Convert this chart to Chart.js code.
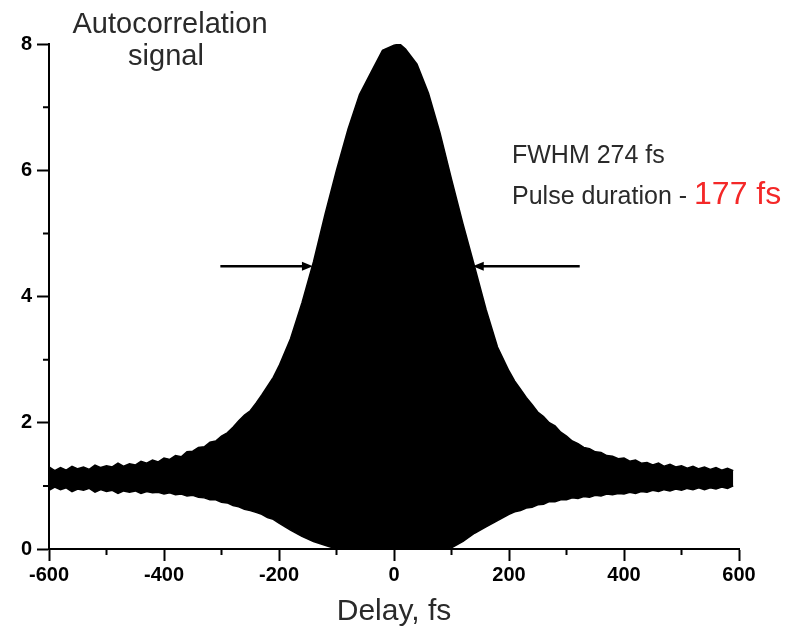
<!DOCTYPE html>
<html>
<head>
<meta charset="utf-8">
<script src="https://cdn.jsdelivr.net/npm/chart.js@4.4.1/dist/chart.umd.min.js"></script>
<style>
  html, body { margin: 0; padding: 0; background: #fff; }
  #wrap { width: 811px; height: 633px; }
</style>
</head>
<body>
<div id="wrap"><canvas id="myChart" width="811" height="633"></canvas></div>
<script>
// delay points (fs) and the envelopes
var delay = [-600,-590,-580,-570,-560,-550,-540,-530,-520,-510,-500,-490,-480,-470,-460,-450,
             -440,-430,-420,-410,-400,-390,-380,-370,-360,-350,-340,-330,-320,-310,-300,-290,
             -280,-270,-260,-250,-240,-230,-220,-210,-200,
             -180,-160,-140,-120,-100,-80,-60,-40,-20,0,10,20,40,60,80,100,120,140,160,180,
             200,210,220,230,240,250,260,270,280,290,300,310,320,330,340,350,360,370,380,390,
             400,410,420,430,440,450,460,470,480,490,500,510,520,530,540,550,560,570,580,590];
var upperEnv = [1.30,1.24,1.29,1.25,1.31,1.27,1.30,1.26,1.33,1.29,1.32,1.30,1.36,1.31,1.35,1.33,
                1.39,1.36,1.41,1.38,1.44,1.42,1.48,1.46,1.54,1.55,1.61,1.62,1.69,1.71,1.79,1.84,
                1.93,2.03,2.12,2.19,2.31,2.44,2.58,2.72,2.90,
                3.33,3.90,4.55,5.30,6.00,6.65,7.20,7.55,7.90,7.98,8.00,7.92,7.68,7.22,6.59,5.86,5.15,4.48,3.80,3.20,
                2.82,2.66,2.53,2.40,2.29,2.17,2.10,2.00,1.95,1.85,1.79,1.71,1.67,1.61,1.59,1.54,1.53,1.48,1.47,1.43,
                1.44,1.39,1.41,1.36,1.37,1.33,1.36,1.31,1.34,1.30,1.32,1.28,1.31,1.27,1.30,1.26,1.29,1.25,1.28,1.24];
var lowerEnv = [0.93,0.98,0.94,0.97,0.91,0.95,0.93,0.96,0.90,0.94,0.91,0.93,0.88,0.92,0.90,0.92,
                0.88,0.91,0.89,0.90,0.87,0.89,0.86,0.87,0.84,0.85,0.82,0.81,0.78,0.78,0.74,0.73,
                0.69,0.67,0.63,0.61,0.58,0.55,0.50,0.47,0.41,
                0.30,0.20,0.12,0.06,0.00,0.00,0.00,0.00,0.00,0.00,0.00,0.00,0.00,0.00,0.00,0.02,0.12,0.25,0.35,0.45,
                0.55,0.59,0.61,0.65,0.66,0.70,0.71,0.75,0.75,0.78,0.78,0.81,0.80,0.83,0.82,0.85,0.84,0.87,0.86,0.88,
                0.87,0.90,0.88,0.91,0.90,0.93,0.91,0.94,0.92,0.95,0.93,0.96,0.94,0.97,0.94,0.97,0.95,0.98,0.96,1.00];

var xMajor = [-600,-400,-200,0,200,400,600];
var xMinor = [-500,-300,-100,100,300,500];
var yMajor = [0,2,4,6,8];
var yMinor = [1,3,5,7];

// FWHM arrows (fs) at the half-height level
var arrowFrom = [-302, 323];
var arrowTo = [-141, 137];
var arrowLevel = 4.48;

function toPoints(xs, ys){
    var pts = [];
    for(var k=0; k<xs.length; k++){
        pts.push({x: xs[k], y: ys[k]});
    }
    return pts;
}

var tickFont = {family: "'Liberation Sans', Arial, sans-serif", size: 20, weight: 'bold'};

var extras = {
    id: 'extras',
    afterDraw: function(chart){
        var ctx = chart.ctx;
        var xs = chart.scales.x, ys = chart.scales.y;
        var area = chart.chartArea;
        ctx.save();
        // minor ticks
        ctx.strokeStyle = '#000';
        ctx.lineWidth = 2;
        ctx.beginPath();
        xMinor.forEach(function(v){
            var px = xs.getPixelForValue(v);
            ctx.moveTo(px, area.bottom);
            ctx.lineTo(px, area.bottom + 6);
        });
        yMinor.forEach(function(v){
            var py = ys.getPixelForValue(v);
            ctx.moveTo(area.left, py);
            ctx.lineTo(area.left - 6, py);
        });
        ctx.stroke();

        // arrows
        var ay = ys.getPixelForValue(arrowLevel);
        for(var k=0; k<arrowFrom.length; k++){
            var x0 = xs.getPixelForValue(arrowFrom[k]);
            var x1 = xs.getPixelForValue(arrowTo[k]);
            var dir = x1 > x0 ? 1 : -1;
            ctx.lineWidth = 2.5;
            ctx.beginPath();
            ctx.moveTo(x0, ay);
            ctx.lineTo(x1 - dir*8, ay);
            ctx.stroke();
            ctx.fillStyle = '#000';
            ctx.beginPath();
            ctx.moveTo(x1, ay);
            ctx.lineTo(x1 - dir*11, ay - 4.5);
            ctx.lineTo(x1 - dir*11, ay + 4.5);
            ctx.closePath();
            ctx.fill();
        }

        // text labels
        ctx.fillStyle = '#2a2a2a';
        ctx.textAlign = 'center';
        ctx.textBaseline = 'alphabetic';
        ctx.font = "29px 'Liberation Sans', Arial, sans-serif";
        ctx.fillText('Autocorrelation', 170, 33);
        ctx.fillText('signal', 166, 65);

        ctx.textAlign = 'left';
        ctx.font = "25px 'Liberation Sans', Arial, sans-serif";
        ctx.fillText('FWHM 274 fs', 512, 163);
        var s = 'Pulse duration - ';
        ctx.fillText(s, 512, 204);
        var w = ctx.measureText(s).width;
        ctx.fillStyle = '#f42828';
        ctx.font = "32px 'Liberation Sans', Arial, sans-serif";
        ctx.fillText('177 fs', 512 + w, 204);
        ctx.restore();
    }
};

var myChart = new Chart(document.getElementById('myChart').getContext('2d'), {
    type: 'line',
    data: {
        datasets: [
            {
                label: 'upper',
                data: toPoints(delay, upperEnv),
                borderColor: '#000',
                backgroundColor: '#000',
                borderWidth: 1.5,
                pointRadius: 0,
                tension: 0,
                fill: '+1'
            },
            {
                label: 'lower',
                data: toPoints(delay, lowerEnv),
                borderColor: '#000',
                borderWidth: 1.5,
                pointRadius: 0,
                tension: 0,
                fill: false
            }
        ]
    },
    plugins: [extras],
    options: {
        responsive: false,
        animation: false,
        layout: {padding: {left: 0, top: 44, right: 72, bottom: 0}},
        plugins: {
            legend: {display: false},
            tooltip: {enabled: false}
        },
        scales: {
            x: {
                type: 'linear',
                min: -600,
                max: 600,
                afterFit: function(scale){ scale.height = 84; },
                afterBuildTicks: function(scale){
                    scale.ticks = xMajor.map(function(v){ return {value: v}; });
                },
                ticks: {
                    color: '#000',
                    font: tickFont,
                    padding: 2,
                    maxRotation: 0,
                    autoSkip: false
                },
                grid: {
                    drawOnChartArea: false,
                    drawTicks: true,
                    tickLength: 12,
                    tickWidth: 2,
                    tickColor: '#000'
                },
                border: {display: true, color: '#000', width: 2},
                title: {
                    display: true,
                    text: 'Delay, fs',
                    color: '#2a2a2a',
                    font: {family: "'Liberation Sans', Arial, sans-serif", size: 30},
                    padding: {top: 0, bottom: 3}
                }
            },
            y: {
                type: 'linear',
                min: 0,
                max: 8,
                afterFit: function(scale){ scale.width = 49; },
                afterBuildTicks: function(scale){
                    scale.ticks = yMajor.map(function(v){ return {value: v}; });
                },
                ticks: {
                    color: '#000',
                    font: tickFont,
                    padding: 5
                },
                grid: {
                    drawOnChartArea: false,
                    drawTicks: true,
                    tickLength: 12,
                    tickWidth: 2,
                    tickColor: '#000'
                },
                border: {display: true, color: '#000', width: 2}
            }
        }
    }
});
</script>
</body>
</html>
